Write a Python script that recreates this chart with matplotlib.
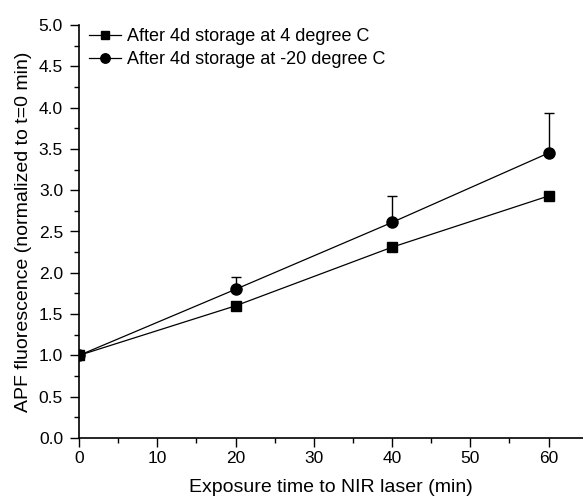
import numpy as np
import matplotlib.pyplot as plt
from matplotlib.ticker import MultipleLocator

plt.rcParams['font.family'] = ['Liberation Sans', 'DejaVu Sans']

time_min = [0, 20, 40, 60]
storage_4c = [1.0, 1.60, 2.31, 2.93]
storage_4c_err = [0.0, 0.0, 0.0, 0.0]
storage_m20c = [1.0, 1.80, 2.61, 3.45]
storage_m20c_err = [0.0, 0.15, 0.32, 0.49]

fig = plt.figure(figsize=(5.83, 4.98), dpi=100)
ax = fig.add_axes([79/583, 60/498, 504/583, 413/498])

ax.errorbar(time_min, storage_4c, yerr=[np.zeros(4), storage_4c_err],
            color='black', marker='s', markersize=6.5, linewidth=0.9,
            capsize=3.5, elinewidth=1, label='After 4d storage at 4 degree C')
ax.errorbar(time_min, storage_m20c, yerr=[np.zeros(4), storage_m20c_err],
            color='black', marker='o', markersize=8, linewidth=0.9,
            capsize=3.5, elinewidth=1, label='After 4d storage at -20 degree C')

ax.set_xlim(0, 64.4)
ax.set_ylim(0, 5.0)
ax.xaxis.set_major_locator(MultipleLocator(10))
ax.xaxis.set_minor_locator(MultipleLocator(5))
ax.yaxis.set_major_locator(MultipleLocator(0.5))
ax.yaxis.set_minor_locator(MultipleLocator(0.25))
ax.yaxis.set_major_formatter(plt.FormatStrFormatter('%.1f'))
ax.tick_params(which='both', direction='out', labelsize=12.5, width=1)
ax.tick_params(which='major', length=6.5)
ax.tick_params(axis='y', which='major', pad=5)
ax.tick_params(axis='x', which='major', pad=3)
ax.tick_params(which='minor', length=3.5)
ax.spines['top'].set_visible(False)
ax.spines['right'].set_visible(False)
for s in ['left', 'bottom']:
    ax.spines[s].set_linewidth(1.2)

ax.set_xlabel('Exposure time to NIR laser (min)', fontsize=14, labelpad=9)
ax.set_ylabel('APF fluorescence (normalized to t=0 min)', fontsize=14, labelpad=5)

# error bars not shown in legend
handles, labels = ax.get_legend_handles_labels()
handles = [h[0] for h in handles]
ax.legend(handles, labels, loc='upper left', frameon=False, fontsize=13,
          handlelength=1.8, handletextpad=0.3, labelspacing=0.35,
          borderaxespad=0.0, markerscale=0.85, bbox_to_anchor=(0.005, 1.01))

fig.savefig('out.png', dpi=100)
